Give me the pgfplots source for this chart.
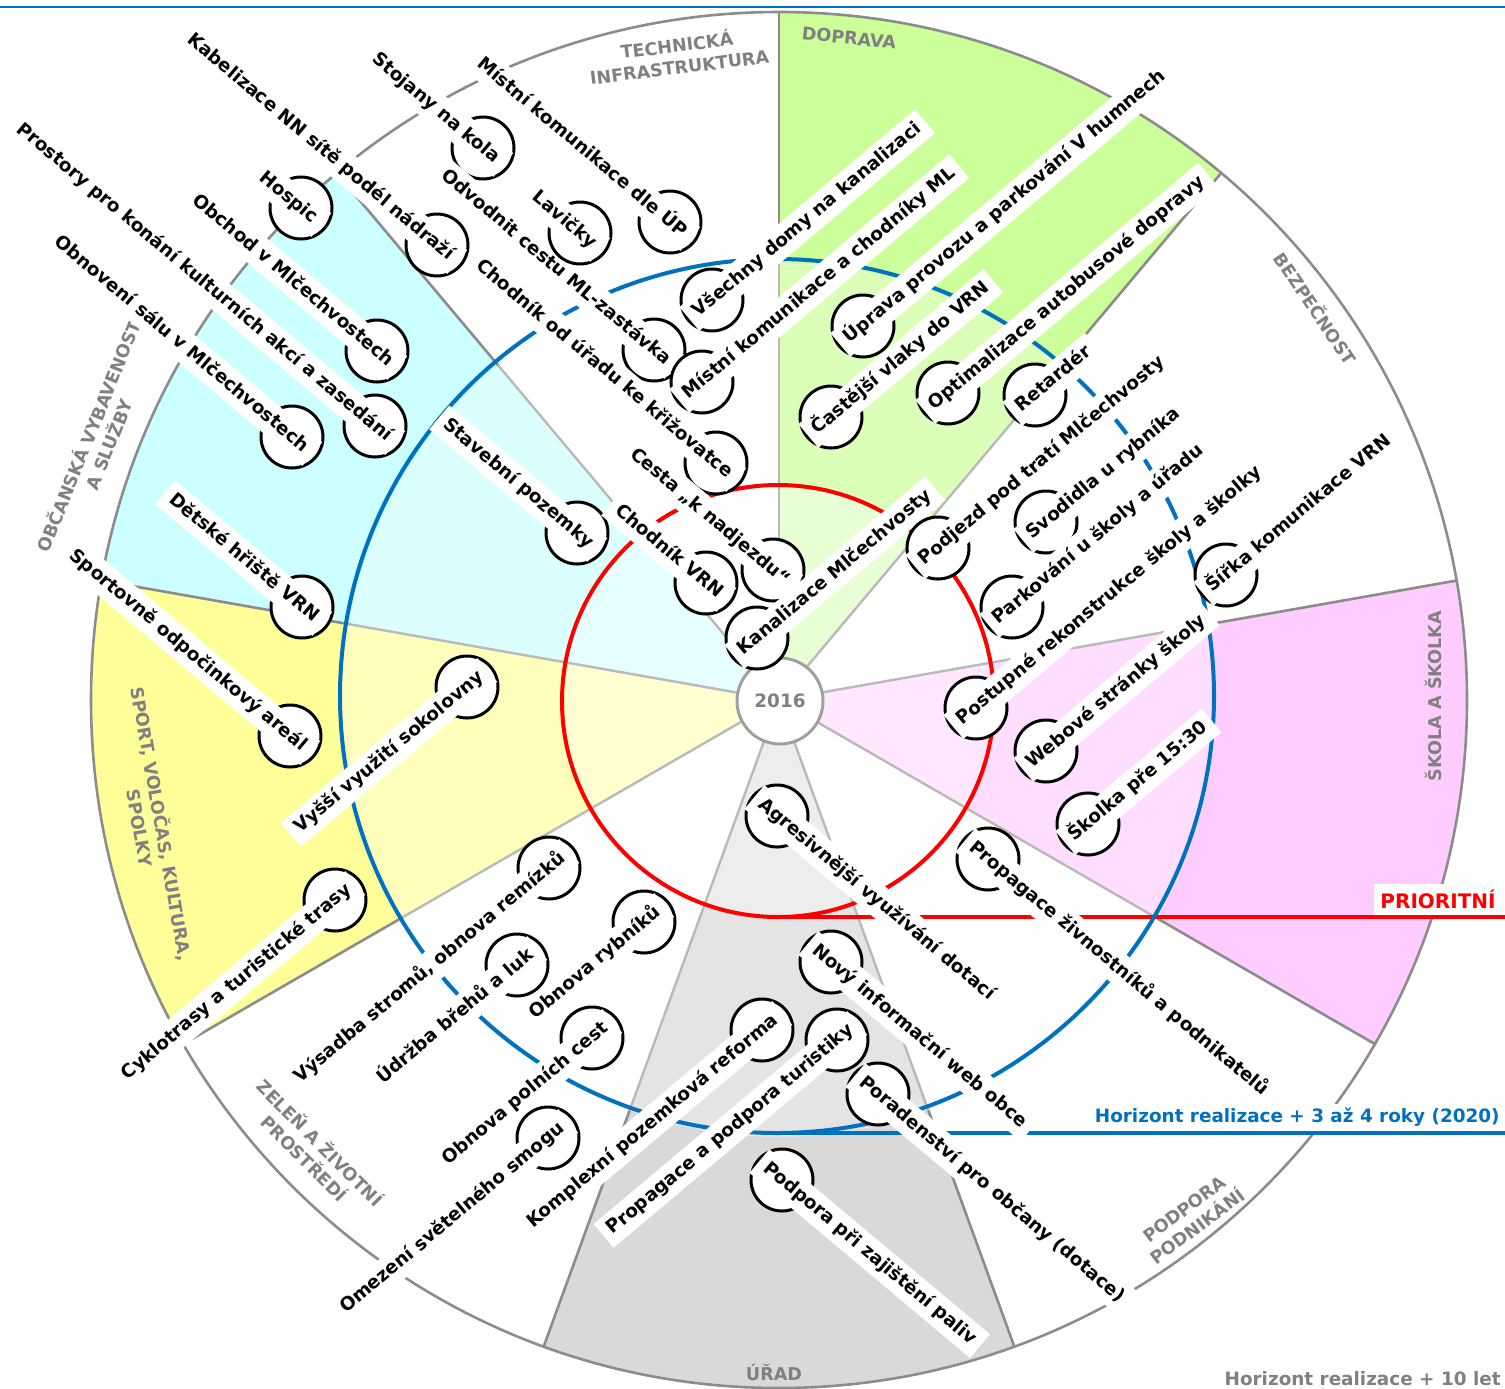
\documentclass[border=0pt]{standalone}
\usepackage{pgfplots}
\pgfplotsset{compat=1.18}
\usepackage{pgfplotstable}
\usepackage{fontspec}
\setmainfont{DejaVu Sans}

\definecolor{ringgray}{RGB}{140,140,140}
\definecolor{divgray}{RGB}{185,185,185}
\definecolor{catgray}{RGB}{128,128,128}
\definecolor{hblue}{RGB}{0,112,192}
\definecolor{greenO}{HTML}{CCFF99}
\definecolor{greenM}{HTML}{DBFFB8}
\definecolor{greenI}{HTML}{E8FFD6}
\definecolor{cyanO}{HTML}{CCFFFF}
\definecolor{cyanM}{HTML}{DBFFFF}
\definecolor{cyanI}{HTML}{E6FFFF}
\definecolor{yellowO}{HTML}{FFFF99}
\definecolor{yellowM}{HTML}{FFFFBB}
\definecolor{yellowI}{HTML}{FFFFD2}
\definecolor{pinkO}{HTML}{FFCCFF}
\definecolor{pinkM}{HTML}{FFDDFF}
\definecolor{pinkI}{HTML}{FFE8FF}
\definecolor{grayO}{HTML}{D9D9D9}
\definecolor{grayM}{HTML}{E4E4E4}
\definecolor{grayI}{HTML}{EDEDED}

\newcommand\itemfont{\fontsize{9.2}{11}\selectfont\bfseries}
\newcommand\catfont{\fontsize{8.8}{11}\selectfont\bfseries}
\tikzset{
  catlab/.style={text=catgray, font=\catfont, align=center, inner sep=1pt},
  itembox/.style={fill=white, text=black, font=\itemfont, inner xsep=4pt, inner ysep=3pt,
      text height=7.3pt, text depth=2.2pt},
}

% sector: start angle, end angle, radius, colour
\newcommand\sector[4]{\fill[#4] (C) -- ([shift={(#1:#3)}]C) arc[start angle=#1, end angle=#2, radius=#3] -- cycle;}
\newcommand\divider[1]{%
  \draw[divgray, line width=1.2pt] ([shift={(#1:21pt)}]C) -- ([shift={(#1:218.5pt)}]C);
  \draw[ringgray, line width=1.3pt] ([shift={(#1:218.5pt)}]C) -- ([shift={(#1:344pt)}]C);}

% bubble positions in pixels of the original; text ends at the bubble, reads downwards
\pgfplotstableread[col sep=semicolon]{
x;y;txt
437;245;Kabelizace NN sítě podél nádraží
483;148;Stojany na kola
670;222;Místní komunikace dle ÚP
301;208;Hospic
377;351;Obchod v Mlčechvostech
375;426;Prostory pro konání kulturních akcí a zasedání
292;437;Obnovení sálu v Mlčechvostech
654;350;Odvodnit cestu ML-zastávka
716;463;Chodník od úřadu ke křižovatce
580;233;Lavičky
577;533;Stavební pozemky
706;583;Chodník VRN
773;570;Cesta „k nadjezdu“
302;607;Dětské hřiště VRN
290;736;Sportovně odpočinkový areál
}\inDown

% text ends at the bubble, reads upwards
\pgfplotstableread[col sep=semicolon]{
x;y;txt
467;687;Vyšší využití sokolovny
335;900;Cyklotrasy a turistické trasy
549;868;Výsadba stromů, obnova remízků
517;965;Údržba břehů a luk
644;922;Obnova rybníků
592;1038;Obnova polních cest
548;1138;Omezení světelného smogu
762;1030;Komplexní pozemková reforma
837;1040;Propagace a podpora turistiky
}\inUp

% text starts at the bubble, reads upwards
\pgfplotstableread[col sep=semicolon]{
x;y;txt
712;300;Všechny domy na kanalizaci
702;382;Místní komunikace a chodníky ML
863;326;Úprava provozu a parkování V humnech
831;417;Častější vlaky do VRN
948;393;Optimalizace autobusové dopravy
1035;395;Retardér
757;638;Kanalizace Mlčechvosty
938;548;Podjezd pod tratí Mlčechvosty
1046;522;Svodidla u rybníka
1012;607;Parkování u školy a úřadu
976;708;Postupné rekonstrukce školy a školky
1226;575;Šířka komunikace VRN
1046;751;Webové stránky školy
1088;824;Školka pře 15:30
}\outUp

% text starts at the bubble, reads downwards
\pgfplotstableread[col sep=semicolon]{
x;y;txt
777;816;Agresivnější využívání dotací
988;859;Propagace živnostníků a podnikatelů
831;962;Nový informační web obce
878;1094;Poradenství pro občany (dotace)
782;1180;Podpora při zajištění paliv
}\outDown

\begin{document}
\begin{tikzpicture}
\begin{axis}[
    x=0.5pt, y=0.5pt,
    y dir=reverse,
    xmin=0, xmax=1505, ymin=0, ymax=1388,
    hide axis,
    clip=false,
    bubble/.style={
        only marks, mark=*, mark size=15.5pt,
        mark options={draw=black, fill=white, line width=1.5pt},
        point meta=explicit symbolic,
        nodes near coords,
    },
]
\coordinate (C) at (axis cs:779,700);

% coloured sectors, three tones each
\sector{50}{90}{344pt}{greenO}
\sector{130}{170}{344pt}{cyanO}
\sector{170}{210}{344pt}{yellowO}
\sector{250}{290}{344pt}{grayO}
\sector{-30}{10}{344pt}{pinkO}
\sector{50}{90}{218.5pt}{greenM}
\sector{130}{170}{218.5pt}{cyanM}
\sector{170}{210}{218.5pt}{yellowM}
\sector{250}{290}{218.5pt}{grayM}
\sector{-30}{10}{218.5pt}{pinkM}
\sector{50}{90}{108pt}{greenI}
\sector{130}{170}{108pt}{cyanI}
\sector{170}{210}{108pt}{yellowI}
\sector{250}{290}{108pt}{grayI}
\sector{-30}{10}{108pt}{pinkI}

\divider{10}\divider{50}\divider{90}\divider{130}\divider{170}
\divider{210}\divider{250}\divider{290}\divider{330}

\draw[ringgray, line width=1.3pt] (C) circle[radius=344pt];

% horizons
\draw[red, line width=2pt] (axis cs:778,701) circle[radius=108pt];
\draw[red, line width=2pt] (axis cs:778,917) -- (axis cs:1505,917);
\draw[hblue, line width=2pt] (axis cs:777,696) circle[radius=218.5pt];
\draw[hblue, line width=2pt] (axis cs:777,1133) -- (axis cs:1505,1133);
\draw[hblue, line width=1pt] (axis cs:0,7) -- (axis cs:1505,7);

\draw[draw={rgb,255:red,160;green,160;blue,160}, line width=1.5pt, fill=white] (axis cs:780,701) circle[radius=21.5pt];
\node[text=catgray, font=\fontsize{9.2}{10}\selectfont\bfseries] at (axis cs:780,701) {2016};

% items
\addplot[bubble, every node near coord/.append style={itembox, anchor=east, rotate=-40, xshift=14pt}]
    table[x=x, y=y, meta=txt] {\inDown};
\addplot[bubble, every node near coord/.append style={itembox, anchor=east, rotate=40, xshift=14pt}]
    table[x=x, y=y, meta=txt] {\inUp};
\addplot[bubble, every node near coord/.append style={itembox, anchor=west, rotate=40, xshift=-15.5pt}]
    table[x=x, y=y, meta=txt] {\outUp};
\addplot[bubble, every node near coord/.append style={itembox, anchor=west, rotate=-40, xshift=-15.5pt}]
    table[x=x, y=y, meta=txt] {\outDown};

% category labels
\node[catlab, rotate=7] at (axis cs:678,55) {TECHNICKÁ\\INFRASTRUKTURA};
\node[catlab, rotate=-6] at (axis cs:849,38) {DOPRAVA};
\node[catlab, rotate=-56] at (axis cs:1316,308) {BEZPEČNOST};
\node[catlab, rotate=90] at (axis cs:1433,696) {ŠKOLA A ŠKOLKA};
\node[catlab, rotate=37] at (axis cs:1191,1218) {PODPORA\\PODNIKÁNÍ};
\node[catlab] at (axis cs:774,1372) {ÚŘAD};
\node[catlab, rotate=-45] at (axis cs:313,1150) {ZELEŇ A ŽIVOTNÍ\\PROSTŘEDÍ};
\node[catlab, rotate=-80] at (axis cs:152,826) {SPORT, VOLOČAS, KULTURA,\\SPOLKY};
\node[catlab, rotate=68] at (axis cs:98,440) {OBČANSKÁ VYBAVENOST\\A SLUŽBY};

% horizon labels
\node[anchor=south east, fill=white, text=red, inner sep=3pt,
      font=\fontsize{10}{12}\selectfont\bfseries] at (axis cs:1502,915) {PRIORITNÍ};
\node[anchor=south east, fill=white, text=hblue, inner sep=2pt,
      font=\fontsize{9.2}{11}\selectfont\bfseries] at (axis cs:1504,1131) {Horizont realizace + 3 až 4 roky (2020)};
\node[anchor=base east, text=catgray, inner sep=1pt,
      font=\fontsize{9.2}{11}\selectfont\bfseries] at (axis cs:1503,1385) {Horizont realizace + 10 let};
\end{axis}
\pgfresetboundingbox
\path (current axis.south west) rectangle (current axis.north east);
\end{tikzpicture}
\end{document}
